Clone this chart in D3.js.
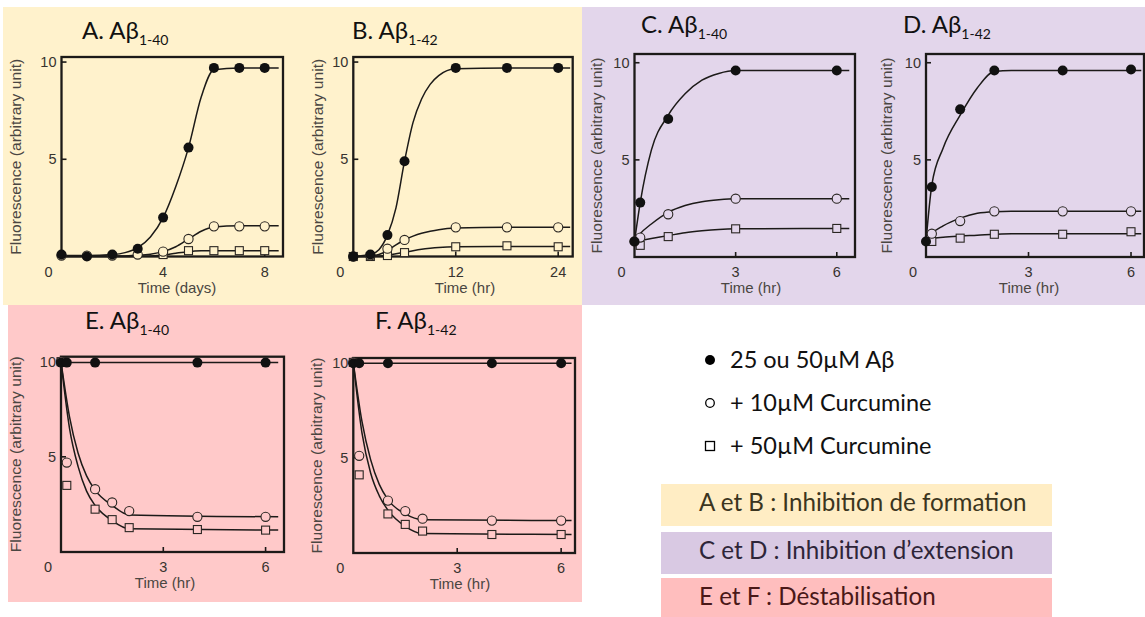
<!DOCTYPE html>
<html><head><meta charset="utf-8">
<script src="https://cdn.jsdelivr.net/npm/d3@7"></script>
<style>body{margin:0;background:#fff} svg{display:block}</style>
</head><body><svg id="c" width="1145" height="617"></svg>
<script>
// ---------------- DATA ----------------
// Panel A: Aβ1-40, formation (days)
const aTime   = [0, 1, 2, 3, 4, 5, 6, 7, 8];
const aFilled = [0.1, 0, 0.1, 0.4, 2.0, 5.6, 9.7, 9.7, 9.7];
const aOpen   = [0.05, 0.05, 0.05, 0.1, 0.25, 0.9, 1.55, 1.55, 1.55];
const aSquare = [null, null, null, null, 0.1, 0.3, 0.3, 0.3, 0.3];
const aFitTime   = [0, 1, 2, 2.5, 3, 3.5, 4, 4.5, 5, 5.5, 6, 7, 8, 8.55];
const aFitFilled = [0.05, 0.05, 0.1, 0.2, 0.45, 1.0, 2.0, 3.6, 5.6, 8.2, 9.6, 9.7, 9.7, 9.7];
const aFitOpen   = [0.02, 0.02, 0.02, 0.03, 0.06, 0.12, 0.25, 0.5, 0.9, 1.3, 1.52, 1.58, 1.58, 1.58];
const aFitSquare = [0, 0, 0, 0, 0.01, 0.03, 0.08, 0.17, 0.25, 0.29, 0.3, 0.3, 0.3, 0.3];

// Panel B: Aβ1-42, formation (hr)
const bTime   = [0, 2, 4, 6, 12, 18, 24];
const bFilled = [0, 0.1, 1.1, 4.9, 9.7, 9.7, 9.7];
const bOpen   = [0, 0.05, 0.4, 0.85, 1.5, 1.5, 1.5];
const bSquare = [0, 0, 0.05, 0.2, 0.5, 0.55, 0.5];
const bFitTime   = [0, 2, 3, 4, 5, 6, 7, 8, 9, 10, 12, 18, 24, 25.4];
const bFitFilled = [0, 0.1, 0.35, 1.1, 2.5, 4.9, 6.9, 8.1, 8.85, 9.3, 9.65, 9.7, 9.7, 9.7];
const bFitOpen   = [0, 0.02, 0.1, 0.3, 0.6, 0.85, 1.05, 1.2, 1.3, 1.38, 1.46, 1.5, 1.5, 1.5];
const bFitSquare = [0, 0, 0.02, 0.06, 0.14, 0.22, 0.3, 0.37, 0.42, 0.46, 0.5, 0.52, 0.52, 0.52];

// Panel C: Aβ1-40, extension (hr)
const cTime   = [0, 0.17, 1, 3, 6];
const cFilled = [0.8, 2.8, 7.1, 9.6, 9.6];
const cOpen   = [0.8, 1.0, 2.2, 3.0, 3.0];
const cSquare = [null, 0.6, 1.05, 1.45, 1.47];
const cFitTime   = [0, 0.17, 0.5, 1, 1.5, 2, 2.5, 3, 6.37];
const cFitFilled = [0.8, 2.8, 5.5, 7.3, 8.4, 9.1, 9.45, 9.6, 9.6];
const cFitOpen   = [0.8, 1.2, 1.7, 2.3, 2.65, 2.85, 2.95, 3.0, 3.0];
const cFitSquare = [0.8, 0.85, 0.95, 1.1, 1.25, 1.35, 1.42, 1.45, 1.47];

// Panel D: Aβ1-42, extension (hr)
const dTime   = [0, 0.17, 1, 2, 4, 6];
const dFilled = [0.8, 3.6, 7.6, 9.6, 9.6, 9.65];
const dOpen   = [null, 1.2, 1.85, 2.35, 2.35, 2.35];
const dSquare = [null, 0.8, 0.97, 1.17, 1.17, 1.3];
const dFitTime   = [0, 0.17, 0.5, 1, 1.5, 2, 2.5, 3, 6.3];
const dFitFilled = [0.8, 3.7, 5.6, 7.3, 8.7, 9.55, 9.6, 9.6, 9.6];
const dFitOpen   = [0.8, 1.2, 1.6, 2.0, 2.25, 2.33, 2.35, 2.35, 2.35];
const dFitSquare = [0.85, 0.95, 1.02, 1.08, 1.12, 1.17, 1.2, 1.2, 1.2];

// Panel E: Aβ1-40, destabilisation (hr)
const eTime   = [0, 0.17, 1, 1.5, 2, 4, 6];
const eFilled = [9.95, 9.95, 9.95, null, null, 9.95, 9.95];
const eOpen   = [10, 4.7, 3.3, 2.6, 2.15, 1.85, 1.85];
const eSquare = [10, 3.5, 2.25, 1.7, 1.28, 1.18, 1.15];
const eFitTime   = [0, 0.25, 0.5, 0.75, 1, 1.5, 2, 6.37];
const eFitFilled = [9.95, 9.95, 9.95, 9.95, 9.95, 9.95, 9.95, 9.95];
const eFitOpen   = [10, 7.1, 5.2, 4.0, 3.25, 2.45, 1.95, 1.85];
const eFitSquare = [10, 6.5, 4.5, 3.2, 2.45, 1.65, 1.22, 1.15];

// Panel F: Aβ1-42, destabilisation (hr)
const fTime   = [0, 0.17, 1, 1.5, 2, 4, 6];
const fFilled = [9.95, 9.95, 9.95, null, null, 9.95, 9.95];
const fOpen   = [10, 5.1, 2.75, 2.2, 1.8, 1.7, 1.7];
const fSquare = [10, 4.1, 2.05, 1.5, 1.15, 0.97, 0.97];
const fFitTime   = [0, 0.25, 0.5, 0.75, 1, 1.5, 2, 6.3];
const fFitFilled = [9.95, 9.95, 9.95, 9.95, 9.95, 9.95, 9.95, 9.95];
const fFitOpen   = [10, 6.9, 4.9, 3.6, 2.8, 2.05, 1.75, 1.7];
const fFitSquare = [10, 6.3, 4.2, 3.0, 2.25, 1.4, 1.02, 0.97];

const yTicks = [5, 10];
const panelLetters = ["A", "B", "C", "D", "E", "F"];
const panelPeptides = ["1-40", "1-42", "1-40", "1-42", "1-40", "1-42"];
const panelXTicks = [[4, 8], [12, 24], [3, 6], [3, 6], [3, 6], [3, 6]];
const panelXLabels = ["Time (days)", "Time (hr)", "Time (hr)", "Time (hr)", "Time (hr)", "Time (hr)"];
const yLabel = "Fluorescence (arbitrary unit)";

const legendLabels = ["25 ou 50µM Aβ", "+ 10µM Curcumine", "+ 50µM Curcumine"];
const boxLabels = ["A et B : Inhibition de formation", "C et D : Inhibition d\u2019extension", "E et F : Déstabilisation"];

// ---------------- LAYOUT ----------------
const BG = {yellow: "#fff2cc", purple: "#e3d6eb", pink: "#ffc9c9"};
const layout = [
  {box: [61.5, 57, 283, 256.5], xMax: 8.72, yMax: 10.26, bg: BG.yellow, title: [82, 39], yTitleOff: 46, xTitleX: 177},
  {box: [353.3, 57, 572.7, 256.5], xMax: 25.7, yMax: 10.26, bg: BG.yellow, title: [352, 39], yTitleOff: 36, xTitleX: 465},
  {box: [634.5, 54, 855, 257], xMax: 6.54, yMax: 10.45, bg: BG.purple, title: [641, 33], yTitleOff: 38, xTitleX: 751},
  {box: [926, 54, 1144, 257], xMax: 6.38, yMax: 10.45, bg: BG.purple, title: [903, 33], yTitleOff: 39, xTitleX: 1029},
  {box: [61, 356.7, 284, 552], xMax: 6.54, yMax: 10.26, bg: BG.pink, title: [85, 329], yTitleOff: 45, xTitleX: 165},
  {box: [353.3, 358, 575, 553], xMax: 6.4, yMax: 10.23, bg: BG.pink, title: [375, 329], yTitleOff: 37, xTitleX: 460}
];

const series = [
  {t: aTime, f: aFilled, o: aOpen, s: aSquare, ft: aFitTime, ff: aFitFilled, fo: aFitOpen, fs: aFitSquare},
  {t: bTime, f: bFilled, o: bOpen, s: bSquare, ft: bFitTime, ff: bFitFilled, fo: bFitOpen, fs: bFitSquare},
  {t: cTime, f: cFilled, o: cOpen, s: cSquare, ft: cFitTime, ff: cFitFilled, fo: cFitOpen, fs: cFitSquare},
  {t: dTime, f: dFilled, o: dOpen, s: dSquare, ft: dFitTime, ff: dFitFilled, fo: dFitOpen, fs: dFitSquare},
  {t: eTime, f: eFilled, o: eOpen, s: eSquare, ft: eFitTime, ff: eFitFilled, fo: eFitOpen, fs: eFitSquare},
  {t: fTime, f: fFilled, o: fOpen, s: fSquare, ft: fFitTime, ff: fFitFilled, fo: fFitOpen, fs: fFitSquare}
];

const svg = d3.select("#c");
const INK = "#1c1a18";
const SANS = "'Liberation Sans', Arial, sans-serif";
const LATO = "Lato, 'Open Sans', sans-serif";
const LABEL_INK = "#37332f";

// background zones
svg.append("rect").attr("x", 3).attr("y", 7).attr("width", 579).attr("height", 298).attr("fill", BG.yellow);
svg.append("rect").attr("x", 582).attr("y", 7).attr("width", 563).attr("height", 298).attr("fill", BG.purple);
svg.append("rect").attr("x", 8).attr("y", 305).attr("width", 574).attr("height", 297).attr("fill", BG.pink);

layout.forEach((L, i) => {
  const S = series[i];
  const [x0, y0, x1, y1] = L.box;
  const x = d3.scaleLinear().domain([0, L.xMax]).range([x0, x1]);
  const y = d3.scaleLinear().domain([0, L.yMax]).range([y1, y0]);
  const g = svg.append("g");

  // title
  const tt = g.append("text").attr("x", L.title[0]).attr("y", L.title[1])
    .attr("font-family", LATO).attr("font-size", 24).attr("fill", "#111");
  tt.append("tspan").text(panelLetters[i] + ". Aβ");
  tt.append("tspan").attr("font-size", 14).attr("dy", 5.5).text(panelPeptides[i]);

  // curves
  const line = d3.line().x(d => x(d[0])).y(d => y(d[1])).curve(d3.curveMonotoneX);
  [S.fs, S.fo, S.ff].forEach(arr => {
    g.append("path").datum(S.ft.map((t, k) => [t, arr[k]]))
      .attr("d", line).attr("fill", "none").attr("stroke", INK).attr("stroke-width", 1.5);
  });

  // frame
  g.append("rect").attr("x", x0).attr("y", y0).attr("width", x1 - x0).attr("height", y1 - y0)
    .attr("fill", "none").attr("stroke", INK).attr("stroke-width", 2.3);

  // y axis ticks (inward) and labels
  yTicks.forEach(v => {
    g.append("line").attr("x1", x0).attr("x2", x0 + 5).attr("y1", y(v)).attr("y2", y(v))
      .attr("stroke", INK).attr("stroke-width", 1.6);
    g.append("text").attr("x", x0 - 5).attr("y", y(v)).attr("dy", "0.36em").attr("text-anchor", "end")
      .attr("font-family", SANS).attr("font-size", 14.5).attr("fill", LABEL_INK).text(v);
  });
  // x ticks
  panelXTicks[i].forEach(v => {
    g.append("line").attr("x1", x(v)).attr("x2", x(v)).attr("y1", y1).attr("y2", y1 - 5)
      .attr("stroke", INK).attr("stroke-width", 1.6);
    g.append("text").attr("x", x(v)).attr("y", y1 + 20).attr("text-anchor", "middle")
      .attr("font-family", SANS).attr("font-size", 14.5).attr("fill", LABEL_INK).text(v);
  });
  // shared origin label
  g.append("text").attr("x", x(0) - 13).attr("y", y(0) + 20).attr("text-anchor", "middle")
    .attr("font-family", SANS).attr("font-size", 14.5).attr("fill", LABEL_INK).text("0");

  // axis titles
  g.append("text").attr("x", L.xTitleX).attr("y", y1 + 36).attr("text-anchor", "middle")
    .attr("font-family", SANS).attr("font-size", 15).attr("fill", "#4a4642").text(panelXLabels[i]);
  g.append("text").attr("transform", `translate(${x0 - L.yTitleOff},${(y0 + y1) / 2}) rotate(-90)`)
    .attr("text-anchor", "middle").attr("dy", "0.35em")
    .attr("textLength", 196).attr("lengthAdjust", "spacingAndGlyphs")
    .attr("font-family", SANS).attr("font-size", 15).attr("fill", "#4a4642").text(yLabel);

  // markers: squares, open circles, filled circles
  const pts = arr => S.t.map((t, k) => [t, arr[k]]).filter(d => d[1] !== null);
  g.selectAll(null).data(pts(S.s)).enter().append("rect")
    .attr("x", d => x(d[0]) - 4).attr("y", d => y(d[1]) - 4).attr("width", 8).attr("height", 8)
    .attr("fill", L.bg).attr("stroke", "#2a2622").attr("stroke-width", 1.1);
  g.selectAll(null).data(pts(S.o)).enter().append("circle")
    .attr("cx", d => x(d[0])).attr("cy", d => y(d[1])).attr("r", 4.6)
    .attr("fill", L.bg).attr("stroke", "#2a2622").attr("stroke-width", 1.1);
  g.selectAll(null).data(pts(S.f)).enter().append("circle")
    .attr("cx", d => x(d[0])).attr("cy", d => y(d[1])).attr("r", 5)
    .attr("fill", "#111");
});

// ---------------- LEGEND ----------------
const legY = [360, 403, 446];
const lg = svg.append("g");
lg.append("circle").attr("cx", 710).attr("cy", legY[0]).attr("r", 5).attr("fill", "#000");
lg.append("circle").attr("cx", 710).attr("cy", legY[1]).attr("r", 4.3).attr("fill", "#fff").attr("stroke", "#000").attr("stroke-width", 1.3);
lg.append("rect").attr("x", 705.5).attr("y", legY[2] - 4.5).attr("width", 9).attr("height", 9).attr("fill", "#fff").attr("stroke", "#000").attr("stroke-width", 1.3);
legendLabels.forEach((t, k) => {
  lg.append("text").attr("x", 730).attr("y", legY[k] + 8).attr("font-family", LATO)
    .attr("font-size", 23.5).attr("fill", "#111").text(t);
});

const boxes = [
  {y: 484, h: 42, fill: "#ffedc4", ink: "#3b3520"},
  {y: 532, h: 42, fill: "#d9c9e3", ink: "#2e2538"},
  {y: 578, h: 39, fill: "#ffbebe", ink: "#4a1818"}
];
boxes.forEach((b, k) => {
  lg.append("rect").attr("x", 661).attr("y", b.y).attr("width", 391).attr("height", b.h).attr("fill", b.fill);
  lg.append("text").attr("x", 699).attr("y", b.y + 27).attr("font-family", LATO)
    .attr("font-size", 24.2).attr("fill", b.ink).text(boxLabels[k]);
});
</script>
</body></html>
